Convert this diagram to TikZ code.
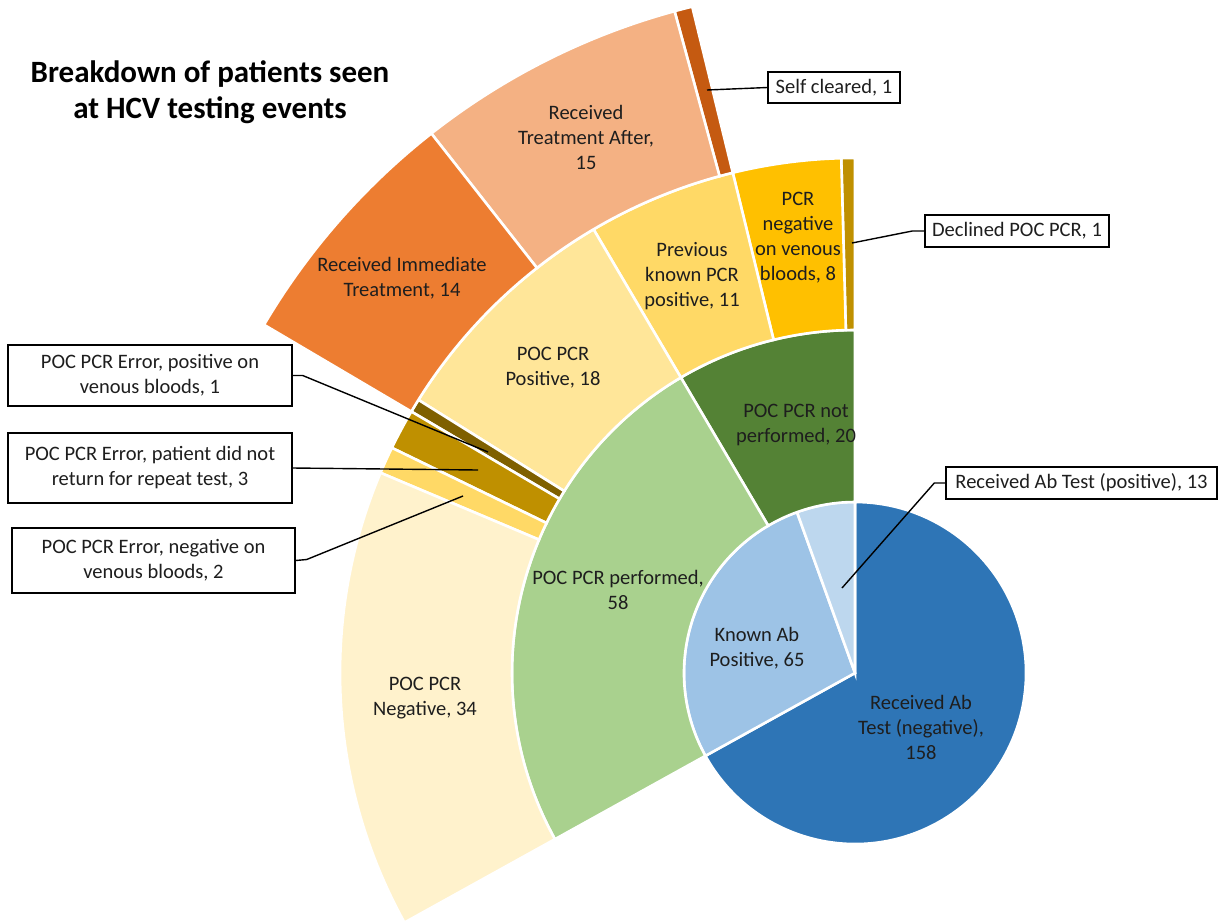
\documentclass[tikz,border=0pt]{standalone}
\usepackage{fontspec}
\setmainfont{Carlito}
\definecolor{cAbNeg}{HTML}{2E75B6}
\definecolor{cKnown}{HTML}{9DC3E6}
\definecolor{cAbPos}{HTML}{BDD7EE}
\definecolor{cNotPerf}{HTML}{548235}
\definecolor{cPerf}{HTML}{A9D18E}
\definecolor{cPocPos}{HTML}{FFE699}
\definecolor{cPocNeg}{HTML}{FFF2CC}
\definecolor{cErrPos}{HTML}{7F6000}
\definecolor{cErrRet}{HTML}{BF9000}
\definecolor{cErrNeg}{HTML}{FFD966}
\definecolor{cPrev}{HTML}{FFD966}
\definecolor{cVen}{HTML}{FFC000}
\definecolor{cDecl}{HTML}{BF9000}
\definecolor{cImm}{HTML}{ED7D31}
\definecolor{cAfter}{HTML}{F4B183}
\definecolor{cSelf}{HTML}{C55A11}
\definecolor{labtext}{HTML}{1E1E1E}
\newcommand{\sunseg}[5]{\filldraw[seg,fill=#5] (#1:#3) arc[start angle=#1,end angle=#2,radius=#3] -- (#2:#4) arc[start angle=#2,end angle=#1,radius=#4] -- cycle;}
\newcommand{\pieseg}[4]{\filldraw[seg,fill=#4] (0,0) -- (#1:#3) arc[start angle=#1,end angle=#2,radius=#3] -- cycle;}
\tikzset{
  seg/.style={draw=white,line width=2.6pt,line join=miter},
  lab/.style={align=center,inner sep=0pt,text=labtext,font=\fontsize{20.5}{25}\selectfont},
  callout/.style={draw=black,line width=1.4pt,fill=white,align=center,inner sep=0pt,text=labtext,font=\fontsize{20.5}{25}\selectfont},
  leader/.style={draw=black,line width=1.4pt},
  ttl/.style={align=center,inner sep=0pt,font=\bfseries\fontsize{31}{36}\selectfont}
}
\begin{document}
\begin{tikzpicture}[x=1pt,y=1pt]
\useasboundingbox (0,0) rectangle (1221,-922);
\begin{scope}[shift={(855,-673)}]
% inner pie
\pieseg{-151.02}{90}{171}{cAbNeg}
\pieseg{109.83}{208.98}{171}{cKnown}
\pieseg{90}{109.83}{171}{cAbPos}
% ring 1
\sunseg{90}{120.51}{171}{343}{cNotPerf}
\sunseg{120.51}{208.98}{171}{343}{cPerf}
% ring 2
\sunseg{90}{91.53}{343}{515}{cDecl}
\sunseg{91.53}{103.73}{343}{515}{cVen}
\sunseg{103.73}{120.51}{343}{515}{cPrev}
\sunseg{120.51}{147.97}{343}{515}{cPocPos}
\sunseg{147.97}{149.49}{343}{515}{cErrPos}
\sunseg{149.49}{154.07}{343}{515}{cErrRet}
\sunseg{154.07}{157.12}{343}{515}{cErrNeg}
\sunseg{157.12}{208.98}{343}{515}{cPocNeg}
% ring 3
\sunseg{103.73}{105.25}{515}{686}{cSelf}
\sunseg{105.25}{128.14}{515}{686}{cAfter}
\sunseg{128.14}{149.49}{515}{686}{cImm}
\end{scope}

% title
\node[ttl] (title) at (210,-92) {Breakdown of patients seen\\at HCV testing events};

% segment labels
\node[lab] (lneg) at (921,-727) {Received Ab\\Test (negative),\\158};
\node[lab] (lkap) at (757,-648) {Known Ab\\Positive, 65};
\node[lab] (lperf) at (618,-590) {POC PCR performed,\\58};
\node[lab] (lnotp) at (796,-425) {POC PCR not\\performed, 20};
\node[lab] (lpos) at (553,-368) {POC PCR\\Positive, 18};
\node[lab] (lnegp) at (425,-698) {POC PCR\\Negative, 34};
\node[lab] (lprev) at (692,-276) {Previous\\known PCR\\positive, 11};
\node[lab] (lven) at (798,-238) {PCR\\negative\\on venous\\bloods, 8};
\node[lab] (limm) at (402,-278) {Received Immediate\\Treatment, 14};
\node[lab] (laft) at (586,-137) {Received\\Treatment After,\\15};

% callouts
\node[callout,minimum width=132pt,minimum height=31pt] (bself) at (834,-87.5) {Self cleared, 1};
\node[callout,minimum width=184pt,minimum height=32pt] (bdecl) at (1017,-231) {Declined POC PCR, 1};
\node[callout,minimum width=271pt,minimum height=32pt] (babpos) at (1081.5,-483) {Received Ab Test (positive), 13};
\node[callout,minimum width=284pt,minimum height=61pt] (berrpos) at (150,-375.5) {POC PCR Error, positive on\\venous bloods, 1};
\node[callout,minimum width=284pt,minimum height=70pt] (berrret) at (150,-468) {POC PCR Error, patient did not\\return for repeat test, 3};
\node[callout,minimum width=283pt,minimum height=65pt] (berrneg) at (153.5,-560.5) {POC PCR Error, negative on\\venous bloods, 2};

% leader end points
\coordinate (pself) at (707,-90);
\coordinate (pdecl) at (852,-243);
\coordinate (pabpos) at (842,-588);
\coordinate (perrpos) at (488,-452);
\coordinate (perrret) at (478,-470);
\coordinate (perrneg) at (463,-496);

\draw[leader] (bself.west) -- (pself);
\draw[leader] (bdecl.west) -- ++(-12,0) -- (pdecl);
\draw[leader] (babpos.west) -- ++(-11,0) -- (pabpos);
\draw[leader] (berrpos.east) -- ++(10,0) -- (perrpos);
\draw[leader] (berrret.east) -- (perrret);
\draw[leader] (berrneg.east) -- ++(11,1) -- (perrneg);
\end{tikzpicture}
\end{document}
